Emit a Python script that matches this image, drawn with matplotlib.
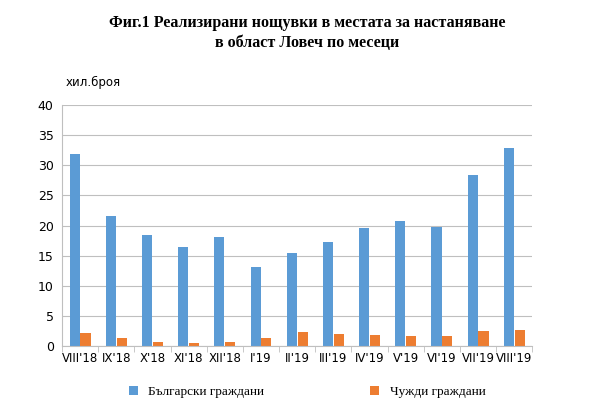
import numpy as np
import matplotlib
matplotlib.use("Agg")
import matplotlib.pyplot as plt

months = ["VIII'18", "IX'18", "X'18", "XI'18", "XII'18", "I'19", "II'19",
          "III'19", "IV'19", "V'19", "VI'19", "VII'19", "VIII'19"]
bulgarians = [31.8, 21.6, 18.4, 16.5, 18.1, 13.2, 15.4, 17.2, 19.6, 20.7, 19.7, 28.4, 32.9]
foreigners = [2.2, 1.3, 0.7, 0.5, 0.7, 1.3, 2.3, 2.0, 1.9, 1.7, 1.6, 2.5, 2.6]

fig = plt.figure(figsize=(6.14, 4.18), dpi=100)
ax = fig.add_axes([0.101, 0.172, 0.766, 0.577])

x = np.arange(len(months))
w = 0.28
ax.bar(x - 0.15, bulgarians, w, color="#5b9bd5", label="Български граждани")
ax.bar(x + 0.15, foreigners, w, color="#ed7d31", label="Чужди граждани")

ax.set_xlim(-0.5, len(months) - 0.5)
ax.set_ylim(0, 40)
ax.set_yticks(range(0, 41, 5))
ax.set_xticks(x)
ax.set_xticklabels(months)
ax.set_xticks(np.arange(-0.5, len(months)), minor=True)
ax.tick_params(axis="x", which="major", length=0, labelsize=8.5, pad=4)
ax.tick_params(axis="x", which="minor", length=4, color="#bfbfbf")
ax.tick_params(axis="y", length=0, labelsize=9, pad=6)
ax.grid(axis="y", color="#bfbfbf", linewidth=0.8)
ax.set_axisbelow(True)
for s in ["top", "right"]:
    ax.spines[s].set_visible(False)
ax.spines["left"].set_color("#bfbfbf")
ax.spines["bottom"].set_color("#bfbfbf")

fig.text(0.107, 0.795, "хил.броя", fontsize=8.5)
fig.text(0.5, 0.965, "Фиг.1 Реализирани нощувки в местата за настаняване\nв област Ловеч по месеци",
         ha="center", va="top", fontsize=11.5, fontweight="bold", family="Liberation Serif",
         linespacing=1.35)
fig.legend(loc="lower center", ncol=2, frameon=False,
           prop={"family": "Liberation Serif", "size": 9.5},
           bbox_to_anchor=(0.5, 0.02), columnspacing=8, handlelength=0.7, handleheight=0.7)

fig.savefig("out.png", dpi=100)
